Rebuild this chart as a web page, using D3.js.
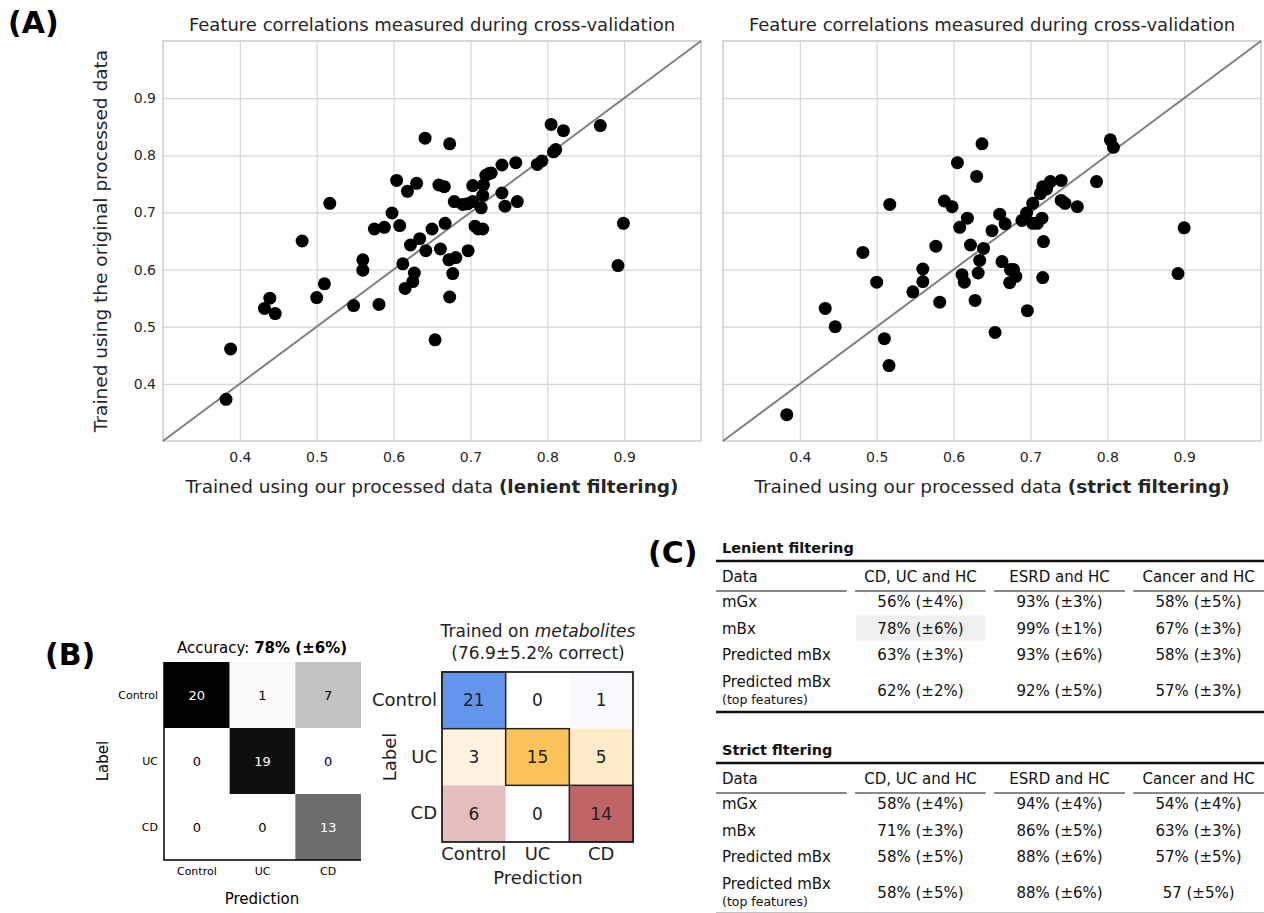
<!DOCTYPE html>
<html>
<head>
<meta charset="utf-8">
<script src="https://cdn.jsdelivr.net/npm/d3@7"></script>
<style>
  body { margin: 0; background: #fff; }
  text { font-family: "DejaVu Sans", sans-serif; }
</style>
</head>
<body>
<script>
    // ---- data ----
    // panel A: [our processed data, original processed data]
    const lenientPoints = [
      [0.382,0.373],[0.388,0.461],[0.432,0.532],[0.439,0.550],[0.446,0.523],[0.481,0.650],[0.500,0.551],
      [0.510,0.575],[0.517,0.716],[0.548,0.537],[0.560,0.617],[0.560,0.599],[0.575,0.671],[0.581,0.539],
      [0.588,0.674],[0.598,0.699],[0.604,0.756],[0.608,0.677],[0.612,0.610],[0.615,0.567],[0.618,0.737],
      [0.622,0.643],[0.625,0.579],[0.627,0.594],[0.630,0.751],[0.634,0.654],[0.641,0.830],[0.642,0.633],
      [0.650,0.671],[0.654,0.477],[0.659,0.748],[0.661,0.636],[0.666,0.745],[0.667,0.681],[0.672,0.617],
      [0.673,0.820],[0.673,0.552],[0.677,0.593],[0.679,0.719],[0.681,0.621],[0.690,0.714],[0.696,0.715],
      [0.697,0.633],[0.703,0.747],[0.703,0.719],[0.706,0.676],[0.710,0.671],[0.714,0.708],[0.716,0.730],
      [0.716,0.671],[0.717,0.748],[0.720,0.765],[0.724,0.768],[0.727,0.769],[0.741,0.783],[0.741,0.734],
      [0.745,0.711],[0.759,0.787],[0.761,0.719],[0.787,0.784],[0.793,0.790],[0.805,0.854],[0.808,0.806],
      [0.811,0.810],[0.821,0.843],[0.869,0.852],[0.892,0.607],[0.899,0.681]
    ];
    const strictPoints = [
      [0.383,0.346],[0.433,0.532],[0.446,0.500],[0.482,0.630],[0.500,0.578],[0.510,0.479],[0.516,0.432],
      [0.517,0.714],[0.547,0.561],[0.560,0.601],[0.560,0.579],[0.577,0.641],[0.582,0.543],[0.588,0.720],
      [0.598,0.710],[0.605,0.787],[0.608,0.674],[0.611,0.591],[0.614,0.578],[0.618,0.690],[0.622,0.643],
      [0.628,0.546],[0.630,0.763],[0.632,0.594],[0.634,0.616],[0.637,0.820],[0.639,0.637],[0.650,0.668],
      [0.654,0.490],[0.660,0.697],[0.663,0.614],[0.667,0.680],[0.673,0.577],[0.674,0.600],[0.678,0.600],
      [0.681,0.588],[0.689,0.686],[0.695,0.699],[0.696,0.528],[0.703,0.716],[0.703,0.681],[0.709,0.681],
      [0.713,0.733],[0.715,0.690],[0.716,0.745],[0.716,0.586],[0.717,0.649],[0.721,0.741],[0.726,0.754],
      [0.740,0.756],[0.740,0.721],[0.745,0.716],[0.761,0.710],[0.786,0.754],[0.804,0.827],[0.808,0.814],
      [0.892,0.593],[0.900,0.673]
    ];
    const scatterTicks = [0.4, 0.5, 0.6, 0.7, 0.8, 0.9];

    // panel B
    const cmClasses = ["Control", "UC", "CD"];
    const cmGrey = [[20, 1, 7], [0, 19, 0], [0, 0, 13]];
    const cmMetab = [[21, 0, 1], [3, 15, 5], [6, 0, 14]];
    const metabRowColors = ["#6495ed", "#fbc35a", "#c06565"];

    // panel C
    const tableCols = ["Data", "CD, UC and HC", "ESRD and HC", "Cancer and HC"];
    const tableRows = ["mGx", "mBx", "Predicted mBx", "Predicted mBx"];
    const lenientVals = [
      ["56% (±4%)", "93% (±3%)", "58% (±5%)"],
      ["78% (±6%)", "99% (±1%)", "67% (±3%)"],
      ["63% (±3%)", "93% (±6%)", "58% (±3%)"],
      ["62% (±2%)", "92% (±5%)", "57% (±3%)"]
    ];
    const strictVals = [
      ["58% (±4%)", "94% (±4%)", "54% (±4%)"],
      ["71% (±3%)", "86% (±5%)", "63% (±3%)"],
      ["58% (±5%)", "88% (±6%)", "57% (±5%)"],
      ["58% (±5%)", "88% (±6%)", "57 (±5%)"]
    ];

    const svg = d3.select('body').append('svg').attr('width', 1264).attr('height', 913);

    // panel letters
    [["(A)", 8, 33], ["(B)", 45, 665], ["(C)", 648, 563]].forEach(d => {
      svg.append('text').attr('x', d[1]).attr('y', d[2]).text(d[0])
        .attr('font-size', 30).attr('font-weight', 'bold').attr('fill', '#000');
    });

    // ---- panel A ----
    function scatter(points, left, boldLabel, showY) {
      const x = d3.scaleLinear().domain([0.3, 1.0]).range([left, left + 538]);
      const y = d3.scaleLinear().domain([0.3, 1.0]).range([441, 41]);
      const g = svg.append('g');

      g.append('g').attr('transform', 'translate(0,441)')
        .call(d3.axisBottom(x).tickValues(scatterTicks).tickSize(-400).tickFormat(''))
        .call(a => a.select('.domain').remove())
        .call(a => a.selectAll('line').attr('stroke', '#d6d6d6').attr('stroke-width', 1.2));
      g.append('g').attr('transform', `translate(${left},0)`)
        .call(d3.axisLeft(y).tickValues(scatterTicks).tickSize(-538).tickFormat(''))
        .call(a => a.select('.domain').remove())
        .call(a => a.selectAll('line').attr('stroke', '#d6d6d6').attr('stroke-width', 1.2));

      g.append('rect').attr('x', left).attr('y', 41).attr('width', 538).attr('height', 400)
        .attr('fill', 'none').attr('stroke', '#cccccc').attr('stroke-width', 1.5);

      g.append('line')
        .attr('x1', x(0.3)).attr('y1', y(0.3)).attr('x2', x(1.0)).attr('y2', y(1.0))
        .attr('stroke', '#808080').attr('stroke-width', 2);

      g.selectAll('circle.pt').data(points).enter().append('circle')
        .attr('class', 'pt')
        .attr('cx', d => x(d[0])).attr('cy', d => y(d[1])).attr('r', 6.5)
        .attr('fill', '#000');

      g.append('g').attr('transform', 'translate(0,441)')
        .call(d3.axisBottom(x).tickValues(scatterTicks).tickSize(0).tickPadding(11).tickFormat(d3.format('.1f')))
        .call(a => a.select('.domain').remove())
        .call(a => a.selectAll('text').attr('font-size', 14).attr('fill', '#262626')
          .attr('font-family', '"DejaVu Sans", sans-serif'));
      if (showY) {
        g.append('g').attr('transform', `translate(${left},0)`)
          .call(d3.axisLeft(y).tickValues(scatterTicks).tickSize(0).tickPadding(7).tickFormat(d3.format('.1f')))
          .call(a => a.select('.domain').remove())
          .call(a => a.selectAll('text').attr('font-size', 14).attr('fill', '#262626')
            .attr('font-family', '"DejaVu Sans", sans-serif'));
        g.append('text').attr('transform', `translate(107,241) rotate(-90)`)
          .attr('text-anchor', 'middle').attr('font-size', 18.5).attr('fill', '#262626')
          .text('Trained using the original processed data');
      }

      g.append('text').attr('x', left + 269).attr('y', 31).attr('text-anchor', 'middle')
        .attr('font-size', 18).attr('fill', '#262626')
        .text('Feature correlations measured during cross-validation');

      const xl = g.append('text').attr('x', left + 269).attr('y', 493).attr('text-anchor', 'middle')
        .attr('font-size', 18.5).attr('fill', '#262626');
      xl.append('tspan').text('Trained using our processed data ');
      xl.append('tspan').attr('font-weight', 'bold').text(boldLabel);
    }
    scatter(lenientPoints, 163, '(lenient filtering)', true);
    scatter(strictPoints, 723, '(strict filtering)', false);

    // ---- panel B (left, greyscale) ----
    (function () {
      const x = d3.scaleBand().domain(cmClasses).range([164, 361]);
      const y = d3.scaleBand().domain(cmClasses).range([662, 860]);
      const color = d3.scaleSequential(d3.interpolateGreys).domain([0, 20]);
      const g = svg.append('g');
      const cells = [];
      cmGrey.forEach((row, i) => row.forEach((v, j) => cells.push({ r: cmClasses[i], c: cmClasses[j], v })));

      g.selectAll('rect').data(cells).enter().append('rect')
        .attr('x', d => x(d.c)).attr('y', d => y(d.r))
        .attr('width', x.bandwidth()).attr('height', y.bandwidth())
        .attr('fill', d => d.v === 0 ? '#fff' : color(d.v));
      g.selectAll('text.v').data(cells).enter().append('text').attr('class', 'v')
        .attr('x', d => x(d.c) + x.bandwidth() / 2).attr('y', d => y(d.r) + y.bandwidth() / 2)
        .attr('dy', '0.35em').attr('text-anchor', 'middle').attr('font-size', 13)
        .attr('fill', d => d.v > 10 ? '#fff' : '#000').text(d => d.v);

      g.append('path').attr('d', `M164,662V860H361`).attr('fill', 'none')
        .attr('stroke', '#000').attr('stroke-width', 1.5);

      g.append('g').attr('transform', 'translate(164,0)')
        .call(d3.axisLeft(y).tickSize(0).tickPadding(6))
        .call(a => a.select('.domain').remove())
        .call(a => a.selectAll('text').attr('font-size', 11).attr('fill', '#000')
          .attr('font-family', '"DejaVu Sans", sans-serif'));
      g.append('g').attr('transform', 'translate(0,860)')
        .call(d3.axisBottom(x).tickSize(0).tickPadding(7))
        .call(a => a.select('.domain').remove())
        .call(a => a.selectAll('text').attr('font-size', 11).attr('fill', '#000')
          .attr('font-family', '"DejaVu Sans", sans-serif'));

      const t = g.append('text').attr('x', 262).attr('y', 653).attr('text-anchor', 'middle')
        .attr('font-size', 15).attr('fill', '#000');
      t.append('tspan').text('Accuracy: ');
      t.append('tspan').attr('font-weight', 'bold').text('78% (±6%)');
      g.append('text').attr('x', 262).attr('y', 904).attr('text-anchor', 'middle')
        .attr('font-size', 15).attr('fill', '#000').text('Prediction');
      g.append('text').attr('transform', 'translate(108,761) rotate(-90)').attr('text-anchor', 'middle')
        .attr('font-size', 15).attr('fill', '#000').text('Label');
    })();

    // ---- panel B (right, metabolites) ----
    (function () {
      const font = '"Liberation Sans", Arial, sans-serif';
      const x = d3.scaleBand().domain(cmClasses).range([442, 633]);
      const y = d3.scaleBand().domain(cmClasses).range([672, 842]);
      const g = svg.append('g');
      const cells = [];
      cmMetab.forEach((row, i) => {
        const mx = d3.max(row);
        row.forEach((v, j) => cells.push({ r: cmClasses[i], c: cmClasses[j], v, i, j,
          col: d3.interpolateRgb('#ffffff', metabRowColors[i])(v / mx) }));
      });

      g.selectAll('rect.c').data(cells).enter().append('rect').attr('class', 'c')
        .attr('x', d => x(d.c)).attr('y', d => y(d.r))
        .attr('width', x.bandwidth()).attr('height', y.bandwidth())
        .attr('fill', d => d.col);
      g.selectAll('rect.d').data(cells.filter(d => d.i === d.j)).enter().append('rect').attr('class', 'd')
        .attr('x', d => x(d.c)).attr('y', d => y(d.r))
        .attr('width', x.bandwidth()).attr('height', y.bandwidth())
        .attr('fill', 'none').attr('stroke', '#222').attr('stroke-width', 1.5);
      g.append('rect').attr('x', 442).attr('y', 672).attr('width', 191).attr('height', 170)
        .attr('fill', 'none').attr('stroke', '#222').attr('stroke-width', 1.8);

      g.selectAll('text.v').data(cells).enter().append('text').attr('class', 'v')
        .attr('x', d => x(d.c) + x.bandwidth() / 2).attr('y', d => y(d.r) + y.bandwidth() / 2)
        .attr('dy', '0.35em').attr('text-anchor', 'middle').attr('font-size', 17)
        .attr('font-family', font).attr('fill', '#222').text(d => d.v);

      g.append('g').attr('transform', 'translate(442,0)')
        .call(d3.axisLeft(y).tickSize(0).tickPadding(5))
        .call(a => a.select('.domain').remove())
        .call(a => a.selectAll('text').attr('font-size', 18).attr('fill', '#222').attr('font-family', font));
      g.append('g').attr('transform', 'translate(0,842)')
        .call(d3.axisBottom(x).tickSize(0).tickPadding(5))
        .call(a => a.select('.domain').remove())
        .call(a => a.selectAll('text').attr('font-size', 18).attr('fill', '#222').attr('font-family', font));

      const t1 = g.append('text').attr('x', 538).attr('y', 637).attr('text-anchor', 'middle')
        .attr('font-size', 17).attr('font-family', font).attr('fill', '#222');
      t1.append('tspan').text('Trained on ');
      t1.append('tspan').attr('font-style', 'italic').text('metabolites');
      g.append('text').attr('x', 538).attr('y', 659).attr('text-anchor', 'middle')
        .attr('font-size', 17).attr('font-family', font).attr('fill', '#222').text('(76.9±5.2% correct)');
      g.append('text').attr('x', 538).attr('y', 884).attr('text-anchor', 'middle')
        .attr('font-size', 18).attr('font-family', font).attr('fill', '#222').text('Prediction');
      g.append('text').attr('transform', 'translate(396,757) rotate(-90)').attr('text-anchor', 'middle')
        .attr('font-size', 18).attr('font-family', font).attr('fill', '#222').text('Label');
    })();

    // ---- panel C ----
    function drawTable(top, title, vals, highlight) {
      const font = 'Lato, "Open Sans", sans-serif';
      const col = d3.scaleBand().domain(tableCols).range([716, 1264]).paddingInner(0.06);
      const rowY = d3.scaleLinear().domain([0, 1]).range([top + 46, top + 72.5]);
      const g = svg.append('g').attr('font-family', font).attr('fill', '#111');

      g.append('text').attr('x', 722).attr('y', top - 8).attr('font-size', 14.5)
        .attr('font-weight', 'bold').attr('font-family', font).text(title);
      g.append('line').attr('x1', 716).attr('x2', 1264).attr('y1', top).attr('y2', top)
        .attr('stroke', '#111').attr('stroke-width', 2.5);

      if (highlight) {
        g.append('rect').attr('x', col(tableCols[1]) + 1).attr('y', rowY(1) - 18)
          .attr('width', col.bandwidth() - 2).attr('height', 25).attr('fill', '#efefef');
      }

      tableCols.forEach((c, i) => {
        g.append('text').attr('font-family', font).attr('font-size', 15)
          .attr('x', i === 0 ? col(c) + 6 : col(c) + col.bandwidth() / 2)
          .attr('text-anchor', i === 0 ? 'start' : 'middle')
          .attr('y', top + 21).text(c);
        g.append('line').attr('x1', col(c)).attr('x2', col(c) + col.bandwidth())
          .attr('y1', top + 30).attr('y2', top + 30).attr('stroke', '#111').attr('stroke-width', 1.2);
      });

      tableRows.forEach((r, i) => {
        const yy = rowY(i);
        const last = i === tableRows.length - 1;
        g.append('text').attr('font-family', font).attr('font-size', 15)
          .attr('x', 722).attr('y', yy).text(r);
        if (last) {
          g.append('text').attr('font-family', font).attr('font-size', 12.5)
            .attr('x', 722).attr('y', yy + 17).text('(top features)');
        }
        vals[i].forEach((v, j) => {
          const c = tableCols[j + 1];
          g.append('text').attr('font-family', font).attr('font-size', 15)
            .attr('x', col(c) + col.bandwidth() / 2).attr('text-anchor', 'middle')
            .attr('y', last ? yy + 9 : yy).text(v);
        });
      });

      g.append('line').attr('x1', 716).attr('x2', 1264).attr('y1', top + 151).attr('y2', top + 151)
        .attr('stroke', '#111').attr('stroke-width', 2.5);
    }
    drawTable(561, 'Lenient filtering', lenientVals, true);
    drawTable(763, 'Strict fltering', strictVals, false);
</script>
</body>
</html>
